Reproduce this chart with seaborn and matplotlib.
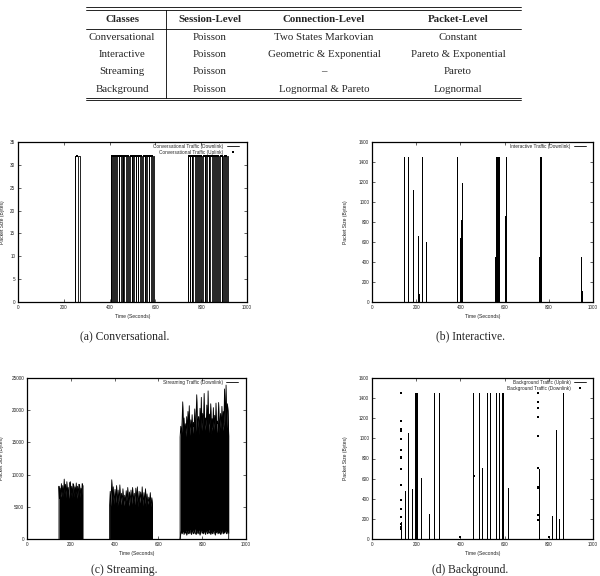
import matplotlib
matplotlib.use("Agg")
import matplotlib.pyplot as plt
import seaborn as sns

# ---- table ----
table_header = ["Classes", "Session-Level", "Connection-Level", "Packet-Level"]
table_classes = ["Conversational", "Interactive", "Streaming", "Background"]
table_session = ["Poisson", "Poisson", "Poisson", "Poisson"]
table_connection = ["Two States Markovian", "Geometric & Exponential", "\u2013", "Lognormal & Pareto"]
table_packet = ["Constant", "Pareto & Exponential", "Pareto", "Lognormal"]

captions = ["(a) Conversational.", "(b) Interactive.", "(c) Streaming.", "(d) Background."]

# ---- (a) conversational: talk spurts of constant 32 byte packets ----
conv_size = 32
conv_on_start = [247, 264,
                 404, 412, 421, 428, 441, 448, 458, 465, 477, 484, 496, 503, 515, 522,
                 533, 541, 553, 560, 571, 579, 590,
                 741, 749, 759, 766, 778, 785, 796, 803, 815, 822, 833, 840, 852, 859,
                 870, 877, 889, 896, 906, 912]
conv_on_end = [250, 270,
               407, 415, 424, 434, 443, 452, 460, 470, 479, 488, 498, 508, 517, 526,
               535, 546, 555, 564, 573, 584, 594,
               744, 753, 761, 771, 780, 789, 798, 808, 817, 826, 835, 845, 854, 863,
               872, 882, 891, 900, 908, 917]
conv_ul_t = [257,
             409, 418, 426, 437, 445, 455, 462, 473, 481, 492, 500, 511, 519, 529,
             538, 549, 557, 567, 576, 587,
             746, 756, 763, 774, 782, 792, 800, 811, 819, 829, 837, 848, 856, 866,
             874, 885, 893, 903, 910]

# ---- (b) interactive downlink packets ----
inter_t = [145, 163, 185, 210, 212, 228, 243, 385, 396, 398, 401, 405,
           558, 562, 564, 566, 567, 569, 571, 573, 576, 602, 603, 606,
           756, 758, 760, 761, 763, 765, 946, 948]
inter_size = [1448, 1448, 1125, 660, 80, 1448, 605, 1448, 640, 140, 820, 1195,
              450, 1448, 1448, 1448, 160, 1448, 885, 1448, 660, 865, 100, 1448,
              450, 1448, 640, 1448, 1448, 540, 450, 110]

# ---- (c) streaming downlink (envelope of the packet sizes) ----
stream1_t = [146, 148, 151, 154, 157, 160, 163, 166, 170, 173, 176, 179, 182, 185, 188, 191,
             194, 198, 201, 204, 207, 210, 213, 216, 219, 222, 225, 228, 231, 234, 237, 240,
             243, 246, 249, 252, 255]
stream1_top = [8200, 6300, 7900, 6500, 8600, 6800, 8300, 6600, 9300, 7000, 8500, 6400, 8900,
               7100, 8000, 6300, 8700, 8900, 6800, 8200, 6500, 8600, 8400, 6600, 8100, 7000,
               8700, 6300, 8200, 6700, 8500, 8400, 6500, 7900, 6900, 8600, 8300]
stream2_t = [377, 380, 383, 387, 391, 394, 398, 402, 405, 409, 413, 416, 420, 424, 427, 431,
             435, 438, 442, 446, 449, 453, 457, 460, 464, 468, 471, 475, 479, 482, 486, 490,
             493, 497, 501, 504, 508, 512, 515, 519, 523, 526, 530, 534, 537, 541, 545, 548,
             552, 556, 559, 563, 567, 570, 573]
stream2_top = [5200, 7400, 5100, 9200, 6000, 8100, 5400, 7700, 5600, 8300,
               5000, 7600, 5800, 8400, 5300, 7100, 5900, 7800, 5200, 6800,
               5500, 7500, 6000, 8000, 5100, 7300, 5600, 7600, 5400, 8000,
               5700, 7100, 5300, 7900, 5800, 8100, 5000, 7400, 5600, 7300,
               5900, 8100, 5200, 7200, 5500, 7800, 5100, 7000, 5400, 6500,
               5600, 7200, 5000, 6400, 5300]
stream3_t = [699, 702, 705, 708, 711, 714, 717, 720, 723, 726, 729, 732, 735, 738, 741, 744,
             748, 751, 754, 757, 760, 763, 766, 769, 772, 775, 778, 781, 784, 787, 790, 793,
             796, 799, 802, 805, 809, 812, 815, 818, 821, 824, 827, 830, 833, 836, 839, 842,
             845, 848, 851, 854, 857, 860, 863, 866, 869, 872, 875, 878, 881, 884, 887, 890,
             893, 896, 899, 902, 905, 909, 912, 915, 918, 921]
stream3_top = [15800, 17500, 16200, 18200, 21300, 16800, 18800, 16500, 17900, 15900,
               19000, 16600, 19800, 17200, 20700, 16100, 18500, 17000, 19300, 16400,
               18100, 17400, 20200, 16300, 19100, 22400, 17000, 18600, 19000, 16200,
               20300, 17100, 22000, 16800, 19500, 17600, 22600, 16900, 18800, 17500,
               20800, 17200, 23000, 16500, 19400, 17800, 21000, 16400, 18700, 17300,
               20400, 16900, 19200, 17600, 21100, 16500, 18300, 17900, 21200, 16600,
               18500, 19500, 17000, 20600, 16800, 19800, 17400, 23300, 18000, 23900,
               17200, 21000, 19900, 16000]
stream3_bot = [0, 900, 1300, 800, 1100, 1500, 700, 1200, 900, 1400,
               600, 1100, 1300, 800, 1000, 1500, 900, 700, 1200, 1400,
               800, 1000, 1600, 900, 700, 1300, 1100, 800, 1400, 1000,
               600, 1200, 1500, 900, 1100, 800, 1300, 1000, 700, 1400,
               1200, 800, 1000, 1500, 900, 1100, 700, 1300, 1000, 800,
               1400, 1100, 900, 600, 1200, 1000, 1500, 800, 1100, 900,
               1300, 700, 1000, 1400, 1100, 800, 1200, 900, 1500, 1000,
               800, 1300, 1100, 900]

# ---- (d) background ----
bg_ul_t = [130, 148, 163, 181, 196, 198, 200, 202, 204, 222, 258, 279, 303,
           459, 484, 499, 520, 535, 560, 575, 590, 592, 595, 615,
           756, 815, 831, 846, 864, 866]
bg_ul_size = [170, 480, 1055, 500, 1448, 1448, 1448, 1448, 1448, 605, 245, 1448, 1448,
              1448, 1448, 705, 1448, 1448, 1448, 1448, 1448, 1448, 1448, 510,
              700, 230, 1085, 195, 1448, 155]
bg_dl_t = [131, 131, 131, 131, 131, 131, 131, 131, 131, 131, 131, 131, 131, 131, 131, 131,
           400, 461,
           751, 751, 751, 751, 751, 751, 751, 751, 751, 751, 799]
bg_dl_size = [1448, 1177, 1090, 1077, 990, 884, 818, 801, 695, 535, 386, 296, 219, 146, 120, 103,
              18, 625,
              1448, 1365, 1297, 1212, 1025, 708, 512, 505, 236, 186, 15]


def spike_series(ts, hs, t_end):
    xs, ys = [0], [0]
    for t, h in zip(ts, hs):
        xs += [t, t, t]
        ys += [0, h, 0]
    xs.append(t_end)
    ys.append(0)
    return xs, ys


def style_axes(ax, ymax, ystep, ylab_off, xlab_off):
    ax.set_xlim(0, 1000)
    ax.set_ylim(0, ymax)
    ax.set_xticks(range(0, 1001, 200))
    ax.set_yticks(range(0, ymax + 1, ystep))
    ax.tick_params(direction="in", length=2.5, width=0.5, top=True, right=True,
                   labelsize=3.3, pad=2, colors="#222222")
    for s in ax.spines.values():
        s.set_linewidth(0.9)
        s.set_color("black")
    ax.set_xlabel("Time (Seconds)", fontsize=3.6, color="#222222")
    ax.set_ylabel("Packet Size (Bytes)", fontsize=3.6, color="#222222")
    ax.yaxis.set_label_coords(ylab_off, 0.5)
    ax.xaxis.set_label_coords(0.5, xlab_off)


def add_legend(ax, x, y):
    ax.legend(loc="upper right", bbox_to_anchor=(x, y), frameon=False, markerfirst=False,
              fontsize=3.4, handlelength=2.6, handletextpad=0.7, labelspacing=0.2,
              borderaxespad=0, borderpad=0)


sns.set_style("ticks")
plt.rcParams["font.family"] = ["Liberation Sans", "DejaVu Sans"]

fig = plt.figure(figsize=(6, 5.76), dpi=100)

# table + captions drawn in pixel coordinates
ax0 = fig.add_axes([0, 0, 1, 1], zorder=-1)
ax0.set_xlim(0, 600)
ax0.set_ylim(576, 0)
ax0.axis("off")
col_x = [122, 210, 324, 458]
row_y = [37.3, 54.5, 72, 89.3]
serif = ["Liberation Serif", "DejaVu Serif"]
for cx, h in zip(col_x, table_header):
    ax0.text(cx, 19.5, h, ha="center", va="center", fontsize=7.8, fontweight="bold", family=serif)
for col, cx in zip([table_classes, table_session, table_connection, table_packet], col_x):
    for ry, txt in zip(row_y, col):
        ax0.text(cx, ry, txt, ha="center", va="center", fontsize=7.8, family=serif)
for yy in [7.3, 9.6, 97.6, 99.9]:
    ax0.plot([86, 521], [yy, yy], color="black", lw=0.6)
ax0.plot([86, 521], [29.3, 29.3], color="black", lw=0.6)
ax0.plot([166, 166], [9.6, 97.6], color="black", lw=0.6)
for (cx, cy), cap in zip([(125, 336), (471, 336), (124, 569.5), (470, 569.5)], captions):
    ax0.text(cx, cy, cap, ha="center", va="center", fontsize=8.4, family=serif)

# (a) conversational
axa = fig.add_axes([18 / 600, 1 - 302 / 576, 229 / 600, 160 / 576])
xs, ys = [0], [0]
for s, e in zip(conv_on_start, conv_on_end):
    xs += [s, s, e, e]
    ys += [0, conv_size, conv_size, 0]
xs.append(917)
ys.append(0)
sns.lineplot(x=xs, y=ys, estimator=None, sort=False, color="black", lw=0.6, ax=axa,
             label="Conversational Traffic (Downlink)", clip_on=False)
sns.scatterplot(x=conv_ul_t, y=[conv_size] * len(conv_ul_t), color="black", s=2.5, linewidth=0,
                marker="s", ax=axa, label="Conversational Traffic (Uplink)")
style_axes(axa, 35, 5, -13 / 229, -12 / 160)
add_legend(axa, 0.965, 0.99)

# (b) interactive
axb = fig.add_axes([372 / 600, 1 - 302 / 576, 221 / 600, 160 / 576])
xs, ys = spike_series(inter_t, inter_size, 1000)
sns.lineplot(x=xs, y=ys, estimator=None, sort=False, color="black", lw=0.6, ax=axb,
             label="Interactive Traffic (Downlink)")
style_axes(axb, 1600, 200, -24 / 221, -12 / 160)
add_legend(axb, 0.97, 0.99)

# (c) streaming
axc = fig.add_axes([27 / 600, 1 - 539 / 576, 219 / 600, 161 / 576])
first = True
for ts, top, bot in [(stream1_t, stream1_top, [0] * len(stream1_t)),
                     (stream2_t, stream2_top, [0] * len(stream2_t)),
                     (stream3_t, stream3_top, stream3_bot)]:
    axc.fill_between(ts, bot, top, color="black", lw=0)
    sns.lineplot(x=[ts[0]] + ts + [ts[-1]], y=[0] + top + [0], estimator=None, sort=False,
                 color="black", lw=0.6, ax=axc,
                 label="Streaming Traffic (Downlink)" if first else None)
    sns.lineplot(x=ts, y=bot, estimator=None, sort=False, color="black", lw=0.6, ax=axc)
    first = False
style_axes(axc, 25000, 5000, -23 / 219, -12 / 161)
add_legend(axc, 0.965, 0.99)

# (d) background
axd = fig.add_axes([372 / 600, 1 - 539 / 576, 221 / 600, 161 / 576])
xs, ys = spike_series(bg_ul_t, bg_ul_size, 866)
sns.lineplot(x=xs, y=ys, estimator=None, sort=False, color="black", lw=0.6, ax=axd,
             label="Background Traffic (Uplink)", clip_on=False)
sns.scatterplot(x=bg_dl_t, y=bg_dl_size, color="black", s=2.5, linewidth=0, marker="s",
                ax=axd, label="Background Traffic (Downlink)")
style_axes(axd, 1600, 200, -24 / 221, -12 / 161)
add_legend(axd, 0.97, 0.99)

fig.savefig("out.png", dpi=100)
